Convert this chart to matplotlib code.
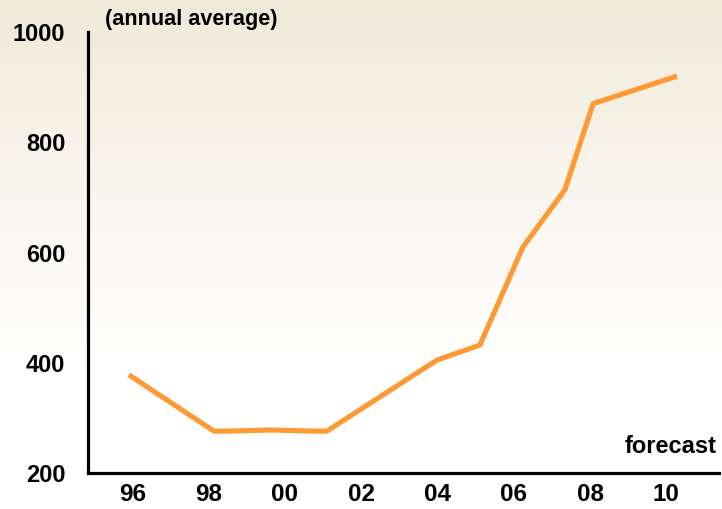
import matplotlib.pyplot as plt
import numpy as np

# data (x in years, y annual average)
years = [1995.91, 1998.14, 1998.51, 1999.64, 2000.74, 2001.10,
         2003.99, 2005.11, 2006.24, 2007.34, 2008.08, 2010.28]
values = [378, 276, 276, 278, 276, 276,
          405, 432, 610, 714, 870, 920]

tick_years = [1996, 1998, 2000, 2002, 2004, 2006, 2008, 2010]
tick_labels = ['96', '98', '00', '02', '04', '06', '08', '10']
y_ticks = [200, 400, 600, 800, 1000]

plt.rcParams['font.family'] = ['Liberation Sans', 'DejaVu Sans']

W, H = 722, 509
fig = plt.figure(figsize=(W / 100, H / 100), dpi=100)

# beige-to-white background
bg = fig.add_axes([0, 0, 1, 1], zorder=-10)
t = np.linspace(0, 1, 256)[:, None]  # 0 = top
top_col = np.array([240, 233, 215]) / 255.0
white = np.ones(3)
fade = np.clip(t / 0.72, 0, 1) ** 0.85
grad = top_col[None, None, :] * (1 - fade[..., None]) + white[None, None, :] * fade[..., None]
bg.imshow(np.repeat(grad, 4, axis=1), aspect='auto', extent=[0, 1, 0, 1])
bg.set_axis_off()

left, right = 87.5, 719
top, bottom = 32, 473
ax = fig.add_axes([left / W, (H - bottom) / H, (right - left) / W, (bottom - top) / H])
ax.patch.set_alpha(0)

ax.plot(years, values, color='#FF9933', linewidth=3.7, solid_capstyle='butt',
        solid_joinstyle='miter')

x0 = 1996 + (left - 132.3) / 38.15
x1 = 1996 + (right - 132.3) / 38.15
ax.set_xlim(x0, x1)
ax.set_ylim(200, 1000)

ax.set_xticks(tick_years)
ax.set_xticklabels(tick_labels)
ax.set_yticks(y_ticks)
ax.tick_params(axis='x', length=0, pad=7, labelsize=17.5)
ax.tick_params(axis='y', length=0, pad=16, labelsize=17)
for lab in ax.get_xticklabels() + ax.get_yticklabels():
    lab.set_fontweight('bold')

for side in ['top', 'right']:
    ax.spines[side].set_visible(False)
for side in ['left', 'bottom']:
    ax.spines[side].set_linewidth(2.3)
    ax.spines[side].set_color('black')

fig.text(105 / W, 1 - 20 / H, '(annual average)', fontsize=15.6, fontweight='bold',
         ha='left', va='center')
fig.text(717 / W, 1 - 453 / H, 'forecast', fontsize=17, fontweight='bold',
         ha='right', va='baseline')

fig.savefig('out.png', dpi=100)
